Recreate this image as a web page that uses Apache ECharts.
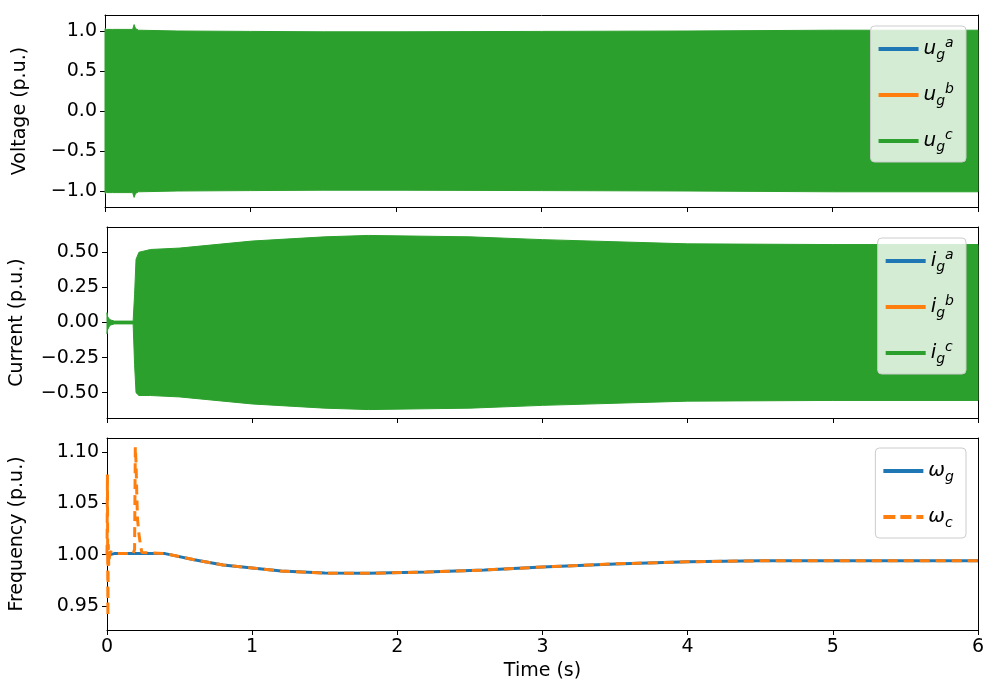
<!DOCTYPE html><html><head><meta charset="utf-8">
<script src="https://cdn.jsdelivr.net/npm/echarts@6/dist/echarts.min.js"></script>
<style>html,body{margin:0;background:#fff}#c{width:1000px;height:700px}</style></head><body><div id="c"></div>
<script>
// voltage envelope
const vT    = [0, 0.01, 0.05, 0.19, 0.2, 0.21, 0.23, 0.5, 1, 1.5, 2, 3, 4, 5, 6];
const vUp   = [1.03, 1.02, 1.02, 1.02, 1.08, 1.03, 1.01, 1.0, 0.995, 0.99, 0.99, 0.995, 1.0, 1.01, 1.01];
const vLo   = [-1.03, -1.02, -1.02, -1.02, -1.08, -1.03, -1.01, -1.0, -0.995, -0.99, -0.99, -0.995, -1.0, -1.01, -1.01];
// current envelope
const iT    = [0, 0.005, 0.02, 0.05, 0.18, 0.19, 0.2, 0.22, 0.3, 0.5, 1, 1.5, 1.8, 2.5, 3, 4, 5, 6];
const iUp   = [0.07, 0.04, 0.02, 0.01, 0.01, 0.2, 0.45, 0.5, 0.52, 0.53, 0.58, 0.61, 0.62, 0.61, 0.59, 0.56, 0.555, 0.555];
const iLo   = [-0.08, -0.05, -0.02, -0.01, -0.01, -0.3, -0.5, -0.52, -0.52, -0.53, -0.58, -0.61, -0.62, -0.61, -0.59, -0.56, -0.555, -0.555];
// frequency
const wgT   = [0, 0.02, 0.05, 0.4, 0.6, 0.8, 1.0, 1.2, 1.5, 1.8, 2.2, 2.6, 3.0, 3.5, 4.0, 4.5, 5.0, 6.0];
const wgV   = [1.0, 1.0, 1.001, 1.001, 0.995, 0.99, 0.987, 0.984, 0.982, 0.9818, 0.983, 0.985, 0.988, 0.991, 0.993, 0.994, 0.994, 0.994];
const wcT   = [0, 0.003, 0.006, 0.009, 0.012, 0.02, 0.05, 0.18, 0.19, 0.195, 0.2, 0.205, 0.21, 0.22, 0.23, 0.24, 0.4, 0.6, 0.8, 1.0, 1.2, 1.5, 1.8, 2.2, 2.6, 3.0, 3.5, 4.0, 4.5, 5.0, 6.0];
const wcV   = [1.0, 1.078, 0.94, 1.01, 0.99, 1.003, 1.001, 1.001, 1.005, 1.105, 1.09, 1.06, 1.035, 1.02, 1.01, 1.002, 1.001, 0.995, 0.99, 0.987, 0.984, 0.982, 0.9818, 0.983, 0.985, 0.988, 0.991, 0.993, 0.994, 0.994, 0.994];
const vTicks = [-1.0, -0.5, 0.0, 0.5, 1.0];
const iTicks = [-0.5, -0.25, 0.0, 0.25, 0.5];
const wTicks = [0.95, 1.0, 1.05, 1.1];

const C = ['#1f77b4', '#ff7f0e', '#2ca02c'];
const z = (a, b) => a.map((t, i) => [t, b[i]]);
const font = 'DejaVu Sans';
const rich = {i:{fontStyle:'italic',fontSize:20,fontFamily:font,color:'#000'},
  sb:{fontStyle:'italic',fontSize:14,fontFamily:font,verticalAlign:'bottom',padding:[12,0,0,0],color:'#000'},
  sp:{fontStyle:'italic',fontSize:14,fontFamily:font,padding:[0,0,12,0],color:'#000'}};
const grids = [{left:105,right:22,top:15,height:192},{left:105,right:22,top:227,height:191},{left:105,right:22,top:438,height:192}];
const mkX = (g, show) => ({type:'value', gridIndex:g, min:0, max:6, interval:1,
  axisLine:{onZero:false,lineStyle:{color:'#000'}}, axisTick:{inside:false,length:5,lineStyle:{color:'#000'}},
  axisLabel:{show:show,color:'#000',fontSize:19,fontFamily:font}, splitLine:{show:false},
  name: show?'Time (s)':'', nameLocation:'middle', nameGap:32, nameTextStyle:{fontSize:19,fontFamily:font,color:'#000'}});
const mkY = (g, min, max, ticks, name, dec, gap) => ({type:'value', gridIndex:g, min, max,
  axisLine:{show:true,onZero:false,lineStyle:{color:'#000'}}, axisTick:{show:true,length:5,customValues:ticks,lineStyle:{color:'#000'}},
  axisLabel:{color:'#000',fontSize:19,fontFamily:font,customValues:ticks,formatter:v=>v.toFixed(dec).replace('-','\u2212')},
  splitLine:{show:false}, name, nameLocation:'middle', nameGap:gap, nameTextStyle:{fontSize:19,fontFamily:font,color:'#000'}});
const borderAxes = [0,1,2].map(g=>({type:'value',gridIndex:g,position:'right',axisLine:{show:true,onZero:false,lineStyle:{color:'#000'}},axisTick:{show:false},axisLabel:{show:false},splitLine:{show:false}}));
const topX = [0,1,2].map(g=>({type:'value',gridIndex:g,position:'top',min:0,max:6,axisLine:{show:true,onZero:false,lineStyle:{color:'#000'}},axisTick:{show:false},axisLabel:{show:false},splitLine:{show:false}}));

const band = (name, xi, yi, T, Up, Lo, color) => ({name, type:'custom', xAxisIndex:xi, yAxisIndex:yi,
  data:[[T[0], Up[0]]], itemStyle:{color},
  renderItem:(params, api) => {
    const pts = T.map((t,k)=>api.coord([t, Up[k]])).concat(T.map((t,k)=>api.coord([t, Lo[k]])).reverse());
    return {type:'polygon', shape:{points:pts}, style:{fill:color, stroke:color, lineWidth:1}};
  }});
const dummy = (name, xi, yi, color) => ({name, type:'line', xAxisIndex:xi, yAxisIndex:yi, data:[], symbol:'none', lineStyle:{color,width:3}, itemStyle:{color}});
const nm = (v, s, p) => `{i|${v}}{sb|${s}}{sp|${p}}`;
const solid = 'path://M0,0 L40,0 L40,4 L0,4 Z';
const dashed = 'path://M0,0 L12,0 L12,4 L0,4 Z M17,0 L28,0 L28,4 L17,4 Z M33,0 L40,0 L40,4 L33,4 Z';
const legend = (top, names, icons) => ({top, right:34, orient:'vertical', itemWidth:40, itemHeight:4, itemGap:20,
  data:names.map((n,k)=>({name:n, icon:icons?icons[k]:solid})),
  backgroundColor:'rgba(255,255,255,0.8)', borderColor:'#ccc', borderWidth:1, borderRadius:4, padding:[10,12,8,8],
  textStyle:{rich, fontSize:20}});
const U = [nm('u','g','a'),nm('u','g','b'),nm('u','g','c')], I = [nm('i','g','a'),nm('i','g','b'),nm('i','g','c')], W = [nm('ω','g',''),nm('ω','c','')];

const opt = {animation:false, grid:grids,
  xAxis:[mkX(0,false), mkX(1,false), mkX(2,true), ...topX],
  yAxis:[mkY(0,-1.2,1.2,vTicks,'Voltage (p.u.)',1,75), mkY(1,-0.68,0.68,iTicks,'Current (p.u.)',2,80), mkY(2,0.9266,1.1136,wTicks,'Frequency (p.u.)',2,80), ...borderAxes],
  legend:[legend(26,U), legend(238,I), legend(448,W,[solid,dashed])],
  series:[
    dummy(U[0],0,0,C[0]), dummy(U[1],0,0,C[1]),
    band(U[2],0,0,vT,vUp,vLo,C[2]),
    dummy(I[0],1,1,C[0]), dummy(I[1],1,1,C[1]),
    band(I[2],1,1,iT,iUp,iLo,C[2]),
    {name:W[0],type:'line',xAxisIndex:2,yAxisIndex:2,data:z(wgT,wgV),symbol:'none',lineStyle:{color:C[0],width:3},itemStyle:{color:C[0]}},
    {name:W[1],type:'line',xAxisIndex:2,yAxisIndex:2,data:z(wcT,wcV),symbol:'none',lineStyle:{color:C[1],width:3,type:[10,6]},itemStyle:{color:C[1]}}
  ]};
echarts.init(document.getElementById('c'),null,{renderer:'canvas'}).setOption(opt);
</script></body></html>
